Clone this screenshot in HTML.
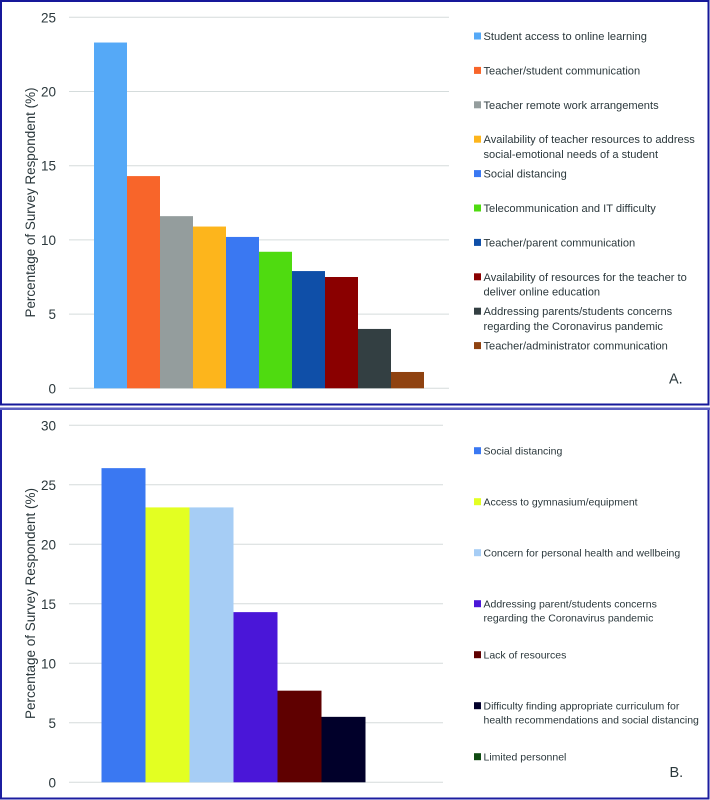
<!DOCTYPE html>
<html>
<head>
<meta charset="utf-8">
<title>Survey respondent charts</title>
<style>
html,body{margin:0;padding:0;background:#fff;}
svg{display:block;}
text{font-family:"Liberation Sans",sans-serif;fill:#2b383c;}
</style>
</head>
<body>
<svg id="figure" xmlns="http://www.w3.org/2000/svg" width="710" height="800" viewBox="0 0 710 800">
<rect x="0" y="0" width="710" height="800" fill="#ffffff"/>
<rect x="1" y="1" width="707.5" height="403.5" fill="none" stroke="#16189a" stroke-width="2"/>
<rect x="1" y="408.5" width="707.5" height="390" fill="none" stroke="#1c1ea0" stroke-width="2"/>
<rect x="0" y="407.5" width="710" height="2.5" fill="#5b5fc2"/>
<text transform="translate(35,202.5) rotate(-90)" text-anchor="middle" font-size="14.2" textLength="230" lengthAdjust="spacingAndGlyphs">Percentage of Survey Respondent (%)</text>
<text transform="translate(35,603.5) rotate(-90)" text-anchor="middle" font-size="14.2" textLength="231" lengthAdjust="spacingAndGlyphs">Percentage of Survey Respondent (%)</text>
<text x="669" y="383.5" font-size="14.5">A.</text>
<text x="669.5" y="777" font-size="14.5">B.</text>
<g id="chart-a"></g>
<g id="chart-b"></g>
</svg>
<script>
var categoriesA = [
  ["Student access to online learning"],
  ["Teacher/student communication"],
  ["Teacher remote work arrangements"],
  ["Availability of teacher resources to address", "social-emotional needs of a student"],
  ["Social distancing"],
  ["Telecommunication and IT difficulty"],
  ["Teacher/parent communication"],
  ["Availability of resources for the teacher to", "deliver online education"],
  ["Addressing parents/students concerns", "regarding the Coronavirus pandemic"],
  ["Teacher/administrator communication"]
];
var valuesA = [23.3, 14.3, 11.6, 10.9, 10.2, 9.2, 7.9, 7.5, 4.0, 1.1];
var colorsA = ["#55a9f7", "#f8652a", "#949d9d", "#fdb51c", "#3a78f2", "#4fdb10", "#0f4fa8", "#8a0000", "#333f42", "#8f4210"];
var ticksA = [0, 5, 10, 15, 20, 25];

var categoriesB = [
  ["Social distancing"],
  ["Access to gymnasium/equipment"],
  ["Concern for personal health and wellbeing"],
  ["Addressing parent/students concerns", "regarding the Coronavirus pandemic"],
  ["Lack of resources"],
  ["Difficulty finding appropriate curriculum for", "health recommendations and social distancing"],
  ["Limited personnel"]
];
var valuesB = [26.4, 23.1, 23.1, 14.3, 7.7, 5.5, 0];
var colorsB = ["#3a78f2", "#e3ff22", "#a6cdf5", "#4a16d8", "#5f0000", "#01002a", "#0f4a12"];
var ticksB = [0, 5, 10, 15, 20, 25, 30];

var NS = "http://www.w3.org/2000/svg";
function make(parent, tag, attrs, txt) {
  var el = document.createElementNS(NS, tag);
  for (var k in attrs) el.setAttribute(k, attrs[k]);
  if (txt !== undefined) el.textContent = txt;
  parent.appendChild(el);
  return el;
}
function drawChart(rootId, cats, vals, cols, ticks, cfg) {
  var root = document.getElementById(rootId);
  var maxTick = ticks[ticks.length - 1];
  function yScale(v) { return cfg.y0 - (v / maxTick) * (cfg.y0 - cfg.yTop); }
  function xScale(i) { return cfg.xStart + i * cfg.barW; }
  ticks.forEach(function (t) {
    var line = make(root, "line", {x1: 69, x2: cfg.gridEnd, y1: yScale(t), y2: yScale(t), stroke: "#d5dcdc", "stroke-width": 1});
    
    
    var lab = make(root, "text", {x: 56, y: yScale(t) + 5, "text-anchor": "end", "font-size": 13.5}, String(t));
    
    
  });
  vals.forEach(function (v, i) {
    var bar = make(root, "rect", {x: xScale(i), y: yScale(v), width: cfg.barW, height: cfg.y0 - yScale(v), fill: cols[i]});
    
    
  });
  cats.forEach(function (lines, i) {
    var cy = cfg.legendY + i * cfg.legendStep;
    var swatch = make(root, "rect", {x: 474, y: cy - 3.5, width: 7, height: 7, fill: cols[i]});
    
    
    lines.forEach(function (s, j) {
      var t = make(root, "text", {x: 483.5, y: cy + 4 + j * cfg.lineStep, "font-size": cfg.fontSize}, s);
      
      
    });
  });
}
drawChart("chart-a", categoriesA, valuesA, colorsA, ticksA, {
  y0: 388.3, yTop: 17.3, xStart: 94, barW: 33, gridEnd: 449,
  legendY: 36, legendStep: 34.4, lineStep: 14.6, fontSize: 11.1
});
drawChart("chart-b", categoriesB, valuesB, colorsB, ticksB, {
  y0: 782.3, yTop: 425.3, xStart: 101.5, barW: 44, gridEnd: 443,
  legendY: 450.7, legendStep: 51, lineStep: 14, fontSize: 10.5
});
</script>
</body>
</html>
